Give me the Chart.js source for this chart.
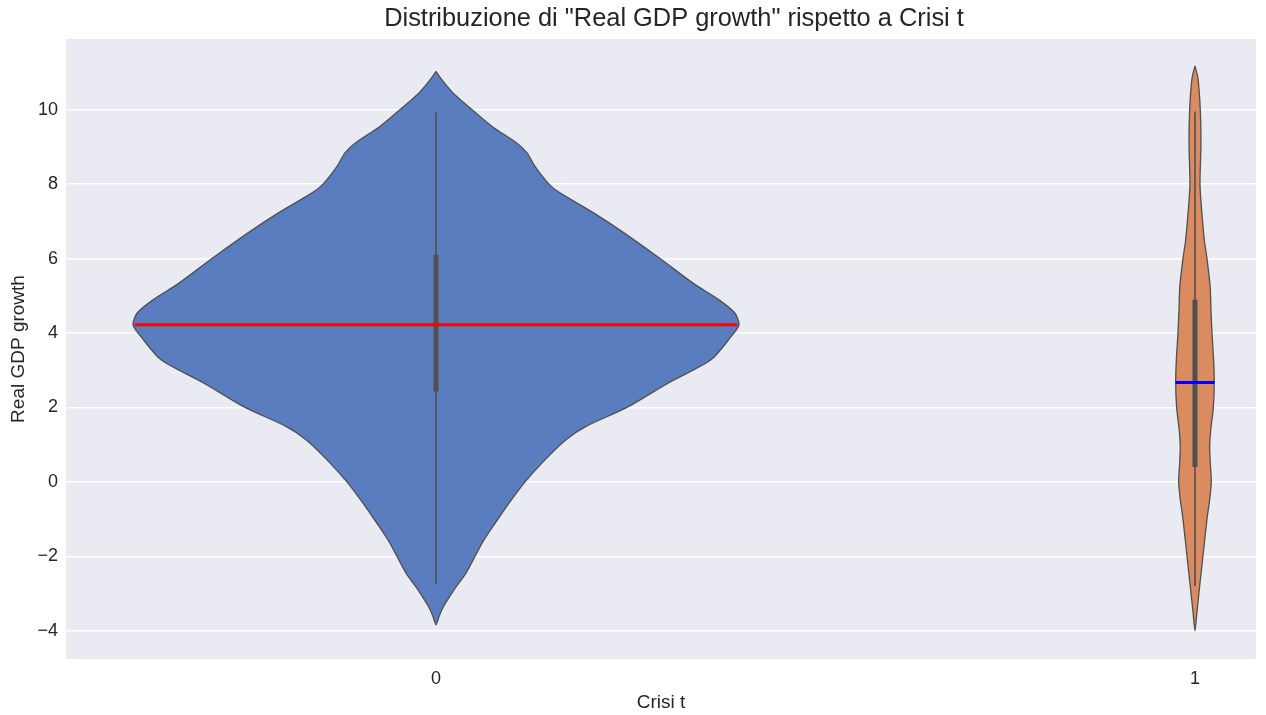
<!DOCTYPE html>
<html>
<head>
<meta charset="utf-8">
<script src="https://cdn.jsdelivr.net/npm/chart.js@4.4.1/dist/chart.umd.min.js"></script>
<style>
  html, body { margin: 0; padding: 0; background: #ffffff; }
  #wrap { width: 1266px; height: 715px; }
</style>
</head>
<body>
<div id="wrap"><canvas id="chart" width="1266" height="715"></canvas></div>
<script>
// Violin plot of "Real GDP growth" by Crisi t, drawn with Chart.js scatter lines

// Categories and tick labels
const categories = ['0', '1'];
const yTicks = [-4, -2, 0, 2, 4, 6, 8, 10];

// Violin outline for Crisi t = 0: y values and half-widths (category units)
const violin0Y = [11.03, 10.8, 10.45, 10.0, 9.55, 9.1, 8.84, 8.48, 8.0, 7.8, 7.22, 6.69, 6.0, 5.34,
  4.89, 4.53, 4.22, 3.9, 3.28, 2.65, 2.0, 1.49, 1.13, 0.59, 0.0, -0.5, -1.0, -1.56, -2.0, -2.45, -2.9,
  -3.35, -3.62, -3.84];
const violin0W = [0, 0.0079, 0.0224, 0.0474, 0.0738, 0.1067, 0.1199, 0.1304, 0.1489, 0.1607, 0.2082,
  0.2477, 0.2951, 0.3386, 0.3729, 0.3939, 0.3992, 0.3887, 0.3623, 0.3057, 0.2516, 0.1976, 0.1713,
  0.1436, 0.1173, 0.0988, 0.0817, 0.0632, 0.0514, 0.0395, 0.0237, 0.0099, 0.004, 0];

// Violin outline for Crisi t = 1
const violin1Y = [11.18, 10.83, 10.0, 9.1, 8.0, 7.3, 6.5, 6.0, 5.25, 4.6, 4.0, 3.3, 2.67, 2.0, 1.4, 0.95,
  0.5, 0.0, -0.47, -1.0, -2.0, -2.8, -3.5, -4.0];
const violin1W = [0, 0.004, 0.007, 0.0079, 0.0066, 0.0088, 0.0123, 0.0158, 0.02, 0.0211, 0.0224, 0.0245,
  0.0254, 0.0242, 0.0208, 0.0194, 0.0202, 0.0215, 0.0194, 0.0158, 0.0105, 0.0062, 0.0026, 0];

// Inner box stats per category
const boxQ1 = [2.43, 0.40];
const boxQ3 = [6.1, 4.89];
const whiskerLow = [-2.75, -2.8];
const whiskerHigh = [9.93, 9.95];
const medians = [4.22, 2.67];
const medianHalfWidth = [0.397, 0.0256];

const fillColours = ['rgb(90,125,191)', 'rgb(218,139,95)'];
const medianColours = ['#ff0000', '#0000ff'];
const lineGrey = 'rgb(80,80,80)';

// Build closed outline: left side top->bottom, right side bottom->top
function outline(center, ys, ws) {
  const left = ys.map((y, i) => ({x: center - ws[i], y: y}));
  const right = ys.map((y, i) => ({x: center + ws[i], y: y})).reverse();
  return left.concat(right.slice(1));
}

const datasets = [];
const violins = [[violin0Y, violin0W], [violin1Y, violin1W]];
violins.forEach((v, i) => {
  datasets.push({
    data: outline(i, v[0], v[1]),
    showLine: true,
    fill: 'shape',
    backgroundColor: fillColours[i],
    borderColor: lineGrey,
    borderWidth: 1.3,
    tension: 0.25,
    pointRadius: 0,
    order: 3
  });
});
categories.forEach((c, i) => {
  // whisker
  datasets.push({
    data: [{x: i, y: whiskerLow[i]}, {x: i, y: whiskerHigh[i]}],
    showLine: true, borderColor: lineGrey, borderWidth: 1.6, pointRadius: 0, order: 2
  });
  // box
  datasets.push({
    data: [{x: i, y: boxQ1[i]}, {x: i, y: boxQ3[i]}],
    showLine: true, borderColor: lineGrey, borderWidth: 5, pointRadius: 0, order: 1
  });
  // median
  datasets.push({
    data: [{x: i - medianHalfWidth[i], y: medians[i]}, {x: i + medianHalfWidth[i], y: medians[i]}],
    showLine: true, borderColor: medianColours[i], borderWidth: 3, pointRadius: 0, order: 0
  });
});

const plotBackground = {
  id: 'plotBackground',
  beforeDraw(chart) {
    const {ctx, chartArea} = chart;
    ctx.save();
    ctx.fillStyle = '#eaeaf2';
    ctx.fillRect(chartArea.left, chartArea.top, chartArea.right - chartArea.left, chartArea.bottom - chartArea.top);
    ctx.restore();
  }
};

// nudge the title box so it sits where the original one does
const titleShift = {
  id: 'titleShift',
  afterLayout(chart) {
    const t = chart.titleBlock;
    if (t) { t.left += 46; t.right += 46; }
  }
};

const textColour = '#262626';
const fontFamily = '"Liberation Sans", Arial, sans-serif';

new Chart(document.getElementById('chart'), {
  type: 'scatter',
  data: {datasets: datasets},
  options: {
    responsive: false,
    animation: false,
    layout: {padding: {left: 0, right: 10, top: 0, bottom: 0}},
    plugins: {
      legend: {display: false},
      tooltip: {enabled: false},
      title: {
        display: true,
        text: 'Distribuzione di "Real GDP growth" rispetto a Crisi t',
        color: textColour,
        font: {family: fontFamily, size: 25.4, weight: 'normal'},
        padding: {top: 4, bottom: 4.5}
      }
    },
    scales: {
      x: {
        type: 'linear',
        min: -0.4875,
        max: 1.0804,
        afterBuildTicks(scale) {
          scale.ticks = categories.map((c, i) => ({value: i}));
        },
        afterFit(scale) { scale.height = 56; },
        ticks: {
          color: textColour,
          font: {family: fontFamily, size: 18},
          padding: 9,
          callback: (v) => categories[v]
        },
        grid: {display: false, drawTicks: false},
        border: {display: false},
        title: {
          display: true, text: 'Crisi t', color: textColour,
          font: {family: fontFamily, size: 19}, padding: {top: 0, bottom: 1}
        }
      },
      y: {
        type: 'linear',
        min: -4.76,
        max: 11.9,
        afterBuildTicks(scale) {
          scale.ticks = yTicks.map(v => ({value: v}));
        },
        afterFit(scale) { scale.width = 66; },
        ticks: {
          color: textColour,
          font: {family: fontFamily, size: 18},
          padding: 8,
          callback: (v) => String(v).replace('-', '\u2212')
        },
        grid: {color: '#ffffff', lineWidth: 1.5, drawTicks: false},
        border: {display: false},
        title: {
          display: true, text: 'Real GDP growth', color: textColour,
          font: {family: fontFamily, size: 19}, padding: {top: 7, bottom: 0}
        }
      }
    }
  },
  plugins: [plotBackground, titleShift]
});
</script>
</body>
</html>
